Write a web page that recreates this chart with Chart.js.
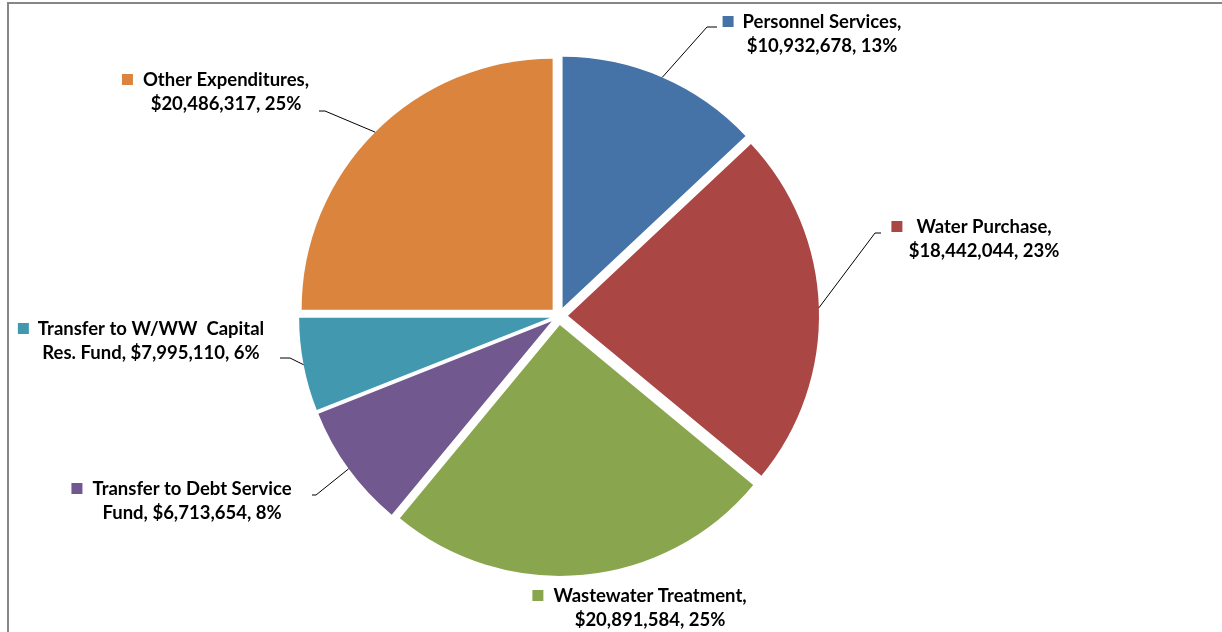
<!DOCTYPE html>
<html>
<head>
<meta charset="utf-8">
<script src="https://cdn.jsdelivr.net/npm/chart.js@4.4.1/dist/chart.umd.min.js"></script>
<style>
  html, body { margin: 0; padding: 0; background: #fff; }
  #wrap { position: relative; width: 1222px; height: 632px; }
</style>
</head>
<body>
<div id="wrap"><canvas id="graf_gastos" width="1222" height="632"></canvas></div>
<script>
// categorias, valores em dólar e percentuais de cada fatia
const categorias = [
  "Personnel Services",
  "Water Purchase",
  "Wastewater Treatment",
  "Transfer to Debt Service\nFund",
  "Transfer to W/WW  Capital\nRes. Fund",
  "Other Expenditures",
];
const valoresDolar = [10932678, 18442044, 20891584, 6713654, 7995110, 20486317];
const percentuais = [13, 23, 25, 8, 6, 25];
const cores = ["#4572A7", "#AA4643", "#89A54E", "#71588F", "#4198AF", "#DB843D"];

// onde fica cada rótulo: centro do texto, linha 1, espaço do quadrado, linha de chamada
const posRotulos = [
  { cx: 822, y: 22, gap: 9, fr: 0.5, elbow: [707, 27], end: [717, 27] },
  { cx: 984, y: 227, gap: 14, fr: 0.5, elbow: [875, 233], end: [881, 233] },
  { cx: 650, y: 596, gap: 10, fr: 0.5, elbow: null, end: null },
  { cx: 192, y: 489, gap: 10, fr: 0.5, elbow: [316, 495], end: [312, 495] },
  { cx: 151, y: 329, gap: 9, fr: 0.5, elbow: [290, 358], end: [280, 358] },
  { cx: 226, y: 80, gap: 10, fr: 0.5, elbow: [325, 111], end: [319, 111] },
];

const EXPLODIR = 9; // afastamento das fatias em px
const FONTE = "700 18.5px Lato";
const ENTRELINHA = 24;

function dinheiro(v) {
  return "$" + v.toLocaleString("en-US");
}

function linhasRotulo(i) {
  const nome = categorias[i];
  const resto = dinheiro(valoresDolar[i]) + ", " + percentuais[i] + "%";
  if (nome.includes("\n")) {
    return (nome + ", " + resto).split("\n");
  }
  return [nome + ",", resto];
}

const pluginRotulos = {
  id: "rotulos",
  afterUpdate(chart) {
    // afasta cada fatia do centro ao longo do seu ângulo médio
    chart.getDatasetMeta(0).data.forEach((arco) => {
      const meio = (arco.startAngle + arco.endAngle) / 2;
      arco.x += Math.cos(meio) * EXPLODIR;
      arco.y += Math.sin(meio) * EXPLODIR;
    });
  },
  beforeDraw(chart) {
    // moldura cinza
    const c = chart.ctx;
    c.save();
    c.strokeStyle = "#868686";
    c.lineWidth = 2;
    c.beginPath();
    c.moveTo(8, 632);
    c.lineTo(8, 3);
    c.lineTo(1222, 3);
    c.stroke();
    c.restore();
  },
  afterDatasetsDraw(chart) {
    const c = chart.ctx;
    const arcos = chart.getDatasetMeta(0).data;
    c.save();
    arcos.forEach((arco, i) => {
      const pos = posRotulos[i];
      if (pos.elbow) {
        const a = arco.startAngle + (arco.endAngle - arco.startAngle) * pos.fr;
        const px = arco.x + Math.cos(a) * arco.outerRadius;
        const py = arco.y + Math.sin(a) * arco.outerRadius;
        c.strokeStyle = "#000";
        c.lineWidth = 1;
        c.beginPath();
        c.moveTo(px, py);
        c.lineTo(pos.elbow[0], pos.elbow[1]);
        c.lineTo(pos.end[0], pos.end[1]);
        c.stroke();
      }
      const linhas = linhasRotulo(i);
      c.font = FONTE;
      c.fillStyle = "#000";
      c.textAlign = "center";
      c.textBaseline = "middle";
      linhas.forEach((t, k) => c.fillText(t, pos.cx, pos.y + k * ENTRELINHA));
      const w1 = c.measureText(linhas[0]).width;
      c.fillStyle = cores[i];
      c.fillRect(pos.cx - w1 / 2 - pos.gap - 11, pos.y - 6, 11, 11);
    });
    c.restore();
  },
};

const dados = {
  labels: categorias.map((n) => n.replace("\n", " ")),
  datasets: [
    {
      data: percentuais,
      backgroundColor: cores,
      borderWidth: 0,
      radius: 251,
    },
  ],
};

const config = {
  type: "pie",
  data: dados,
  options: {
    responsive: false,
    animation: false,
    layout: { padding: { left: 0, right: 104, top: 0, bottom: 0 } },
    plugins: {
      legend: { display: false },
      tooltip: { enabled: false },
    },
  },
  plugins: [pluginRotulos],
};

const grafico = new Chart(document.getElementById("graf_gastos"), config);
</script>
</body>
</html>
